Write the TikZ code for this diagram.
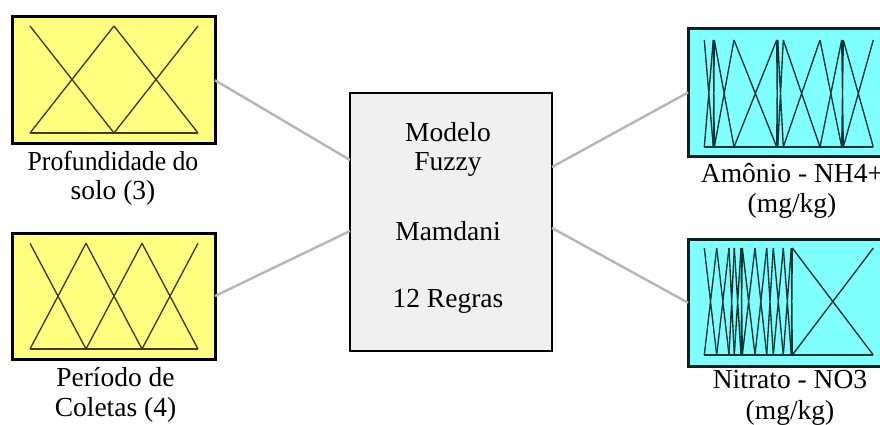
\documentclass[tikz,border=0pt]{standalone}
\usepackage{fontspec}
\setmainfont{Liberation Serif}
\usetikzlibrary{calc}

\definecolor{mfyellow}{RGB}{255,255,128}
\definecolor{mfcyan}{RGB}{128,255,255}
\definecolor{ctrfill}{RGB}{240,240,240}
\definecolor{linkgray}{RGB}{182,182,182}
\definecolor{mfolive}{RGB}{60,60,24}
\definecolor{mfteal}{RGB}{8,52,52}
\definecolor{tealborder}{RGB}{10,32,32}

\begin{document}
\begin{tikzpicture}[x=1pt,y=-1pt,
  inbox/.style={draw=black,line width=3pt,fill=mfyellow,inner sep=0pt,outer sep=0pt},
  outbox/.style={draw=tealborder,line width=3pt,fill=mfcyan,inner sep=0pt,outer sep=0pt},
  ctrbox/.style={draw=black,line width=1.4pt,fill=ctrfill,inner sep=0pt,outer sep=0pt,
    minimum width=202pt,minimum height=258pt},
  link/.style={draw=linkgray,line width=2.4pt},
  mfin/.style={draw=mfolive,line width=1.35pt},
  mfout/.style={draw=mfteal,line width=1.35pt},
  % anchor=base sits on the baseline of the last line
  lbl/.style={font=\fontsize{27.5}{29.5}\selectfont,align=center,inner sep=0pt,anchor=base},
]
\useasboundingbox (0,0) rectangle (880,425);
\clip (0,0) rectangle (880,425);
\fill[white] (0,0) rectangle (880,425);

% input and output variable boxes
\node[inbox,minimum width=203pt,minimum height=126.5pt] (prof) at (113.5,80.25) {};
\node[inbox,minimum width=203pt,minimum height=126pt] (per) at (113.5,296) {};
\node[outbox,minimum width=196pt,minimum height=127pt] (amon) at (786,92.5) {};
\node[outbox,minimum width=196pt,minimum height=126.5pt] (nitr) at (786,302.75) {};

% inference system
\node[ctrbox] (ctr) at (451,222) {};
\node[lbl] (ctrtext) at (448,307.5) {Modelo\\Fuzzy\\[40pt]Mamdani\\[38pt]12 Regras};

% connectors
\path[link] (prof.east) -- ($(ctr.north west)+(0,67)$);
\path[link] (per.east) -- ($(ctr.north west)+(0,138)$);
\path[link] ($(ctr.north east)+(0,74)$) -- (amon.west);
\path[link] ($(ctr.north east)+(0,135)$) -- (nitr.west);

% triangular membership functions: both diagonals over every interval between peaks
\foreach \a/\b in {30/114,114/198}
  \path[mfin] (\a,26) -- (\b,133) (\a,133) -- (\b,26);
\path[mfin] (30,133) -- (198,133);

\foreach \a/\b in {30/86,86/142,142/198}
  \path[mfin] (\a,243.3) -- (\b,349) (\a,349) -- (\b,243.3);
\path[mfin] (30,349) -- (198,349);

\foreach \a/\b in {704.3/713.3,713.3/714.3,714.3/734,734/776.7,776.7/777.7,777.7/783.3,
                   783.3/820,820/841.7,841.7/843.3,843.3/873.3}
  \path[mfout] (\a,40) -- (\b,147) (\a,147) -- (\b,40);
\path[mfout] (704.3,147) -- (873.3,147);

\foreach \a/\b in {704.3/716.7,716.7/729,729/734.3,734.3/741,741/742.3,742.3/755,
                   755/766.7,766.7/773.3,773.3/783.3,783.3/791.3,791.3/792.3,792.3/873.3}
  \path[mfout] (\a,248) -- (\b,355) (\a,355) -- (\b,248);
\path[mfout] (704.3,355) -- (873.3,355);

% variable labels
\node[lbl] (proflbl) at (113,199.5) {\scalebox{0.935}[1]{Profundidade do}\\solo (3)};
\node[lbl] (perlbl) at (115.5,416) {Período de\\Coletas (4)};
\node[lbl] (amonlbl) at (792,212) {Amônio - NH4+\\(mg/kg)};
\node[lbl, font=\fontsize{27.5}{31}\selectfont] (nitrlbl) at (790,419.5) {Nitrato - NO3\\(mg/kg)};
\end{tikzpicture}
\end{document}
